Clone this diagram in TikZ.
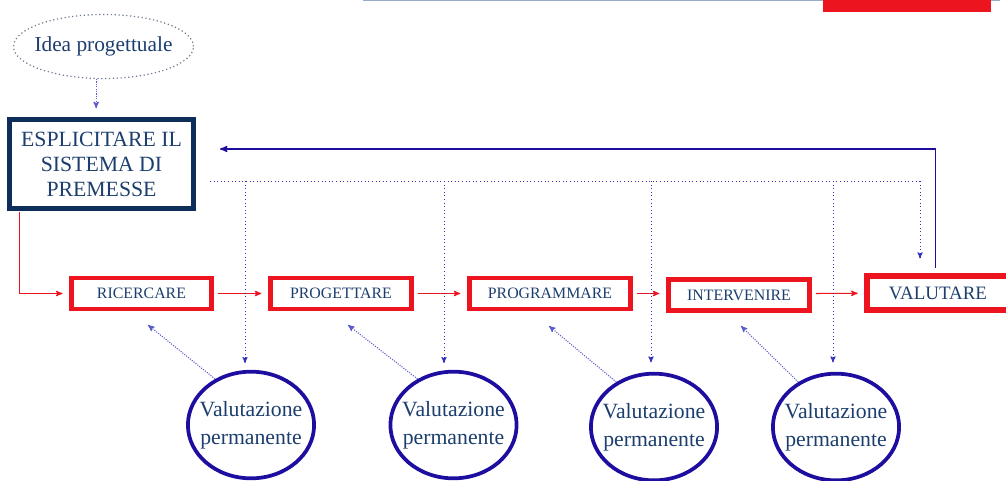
\documentclass[tikz,border=0pt]{standalone}
\usepackage{fontspec}
\setmainfont{Liberation Serif}
\usepackage{tikz}
\usetikzlibrary{shapes.geometric}
\usetikzlibrary{arrows,positioning}
\definecolor{inkblue}{RGB}{28,62,110}
\definecolor{navyframe}{RGB}{14,46,90}
\definecolor{checkblue}{RGB}{30,14,160}
\definecolor{linkblue}{RGB}{50,50,190}
\definecolor{fadeblue}{RGB}{150,172,200}
\definecolor{flowred}{RGB}{236,20,30}
\tikzset{idea node/.style={ellipse, draw=fadeblue!70!black, dotted, line width=0.9pt,
    text=inkblue, inner xsep=-6pt, inner ysep=0pt, minimum width=135pt, minimum height=48pt, font=\fontsize{16}{18}\selectfont}}
\tikzset{premise node/.style={rectangle, draw=navyframe, line width=3.6pt, text=inkblue, align=center,
    inner sep=0pt, minimum width=138pt, minimum height=67pt, font=\fontsize{16.3}{18.8}\selectfont}}
\tikzset{phase node/.style={rectangle, draw=flowred, line width=3.4pt, text=inkblue,
    inner sep=0pt, minimum height=23pt, font=\fontsize{11.9}{14}\selectfont}}
\tikzset{final node/.style={phase node, line width=4.4pt, minimum height=25.5pt, font=\fontsize{14.2}{16}\selectfont}}
\tikzset{check node/.style={ellipse, draw=checkblue, line width=2.8pt, text=inkblue, align=center,
    inner xsep=-5pt, inner ysep=-2pt, minimum width=92pt, minimum height=80pt, font=\fontsize{16.3}{21}\selectfont}}
\tikzset{flow edge/.style={draw=flowred, line width=0.8pt, -stealth', shorten <=3pt, shorten >=5pt}}
\tikzset{back edge/.style={draw=checkblue, line width=1pt, -stealth'}}
\tikzset{link edge/.style={draw=linkblue, dotted, line width=0.7pt}}
\tikzset{check edge/.style={draw=linkblue!80, densely dotted, line width=0.8pt, -stealth'}}

\begin{document}
\begin{tikzpicture}
  [x=0.75pt, y=-0.75pt, auto]
  \useasboundingbox (0,0) rectangle (1006,481);
%    \node [comment] at (500,0) {slide header};
  \fill [fadeblue]     (363,0) rectangle (1000,1.5);
  \fill [flowred]      (823,0) rectangle ( 991,12);

  \node [idea node]      (idea) at (103.5, 46.5) {Idea progettuale};
  \node [premise node]   (esp)  at (101.5,164)   {ESPLICITARE IL\\SISTEMA DI\\PREMESSE};
  \node [phase node, minimum width=105pt] (ric) at (141.5,293.5) {RICERCARE};
  \node [phase node, minimum width=106pt] (pro) at (341  ,293.5) {PROGETTARE};
  \node [phase node, minimum width=121pt] (prm) at (550  ,293.5) {PROGRAMMARE};
  \node [phase node, minimum width=106pt] (int) at (739  ,295)   {INTERVENIRE};
  \node [final node, minimum width=106pt] (val) at (938  ,293)   {VALUTARE};

  \node [check node]     (v1)   at (251  ,425)   {Valutazione\\permanente};
  \node [check node]     (v2)   at (453.5,425)   {Valutazione\\permanente};
  \node [check node]     (v3)   at (654  ,427)   {Valutazione\\permanente};
  \node [check node]     (v4)   at (836  ,427)   {Valutazione\\permanente};

  \coordinate            (tap0) at (210,181);
  \coordinate            (tap5) at (920,181);
  \coordinate            (fbin) at (220,149);
  \coordinate            (c1)   at (148,325);
  \coordinate            (c2)   at (348,325);
  \coordinate            (c3)   at (549,326);
  \coordinate            (c4)   at (741,326);

  \draw [check edge]  ([xshift=-5.5pt]idea.south) -- ([xshift=-4pt,yshift=6.5pt]esp.north);

  \draw [flow edge, shorten <=1pt] ([xshift=9pt]esp.south west) |- (ric.west);
  \draw [flow edge]   (ric) -- (pro);
  \draw [flow edge]   (pro) -- (prm);
  \draw [flow edge]   (prm) -- (int.west |- prm);
  \draw [flow edge]   (int.east |- prm) -- (val);

  \draw [back edge]   ([xshift=-1pt]val.north -| tap5) ++(17,-5) |- (fbin);

  \draw [link edge]   (tap0) -- (tap5);
  \draw [link edge, -stealth'] (tap5) -- ([yshift=11pt]val.north -| tap5);
  \draw [link edge, -stealth'] (tap0 -| 245,0) -- ([yshift=5pt]v1.north -| 245,0);
  \draw [link edge, -stealth'] (tap0 -| 444,0) -- ([yshift=5pt]v2.north -| 444,0);
  \draw [link edge, -stealth'] (tap0 -| 651,0) -- ([yshift=7pt]v3.north -| 651,0);
  \draw [link edge, -stealth'] (tap0 -| 833,0) -- ([yshift=7pt]v4.north -| 833,0);

  \draw [check edge]  (v1.128) -- (c1);
  \draw [check edge]  (v2.128) -- (c2);
  \draw [check edge]  (v3.130) -- (c3);
  \draw [check edge]  (v4.130) -- (c4);
\end{tikzpicture}
\end{document}
